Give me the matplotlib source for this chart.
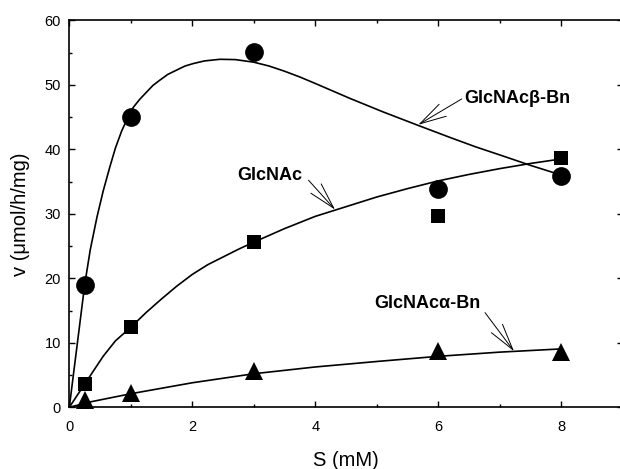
import matplotlib.pyplot as plt
from matplotlib.ticker import MultipleLocator

plt.rcParams['font.family'] = ['Liberation Sans', 'DejaVu Sans']

# measured points, S in mM, v in umol/h/mg
S = [0.25, 1, 3, 6, 8]
V_BETA = [19.0, 45.0, 55.1, 33.8, 35.8]     # GlcNAcb-Bn, circles
V_GLC = [3.6, 12.4, 25.7, 29.7, 38.6]       # GlcNAc, squares
V_ALPHA = [1.1, 2.2, 5.6, 8.7, 8.6]         # GlcNAca-Bn, triangles

# fitted curves
BETA_CURVE_X = [0, 0.1, 0.17, 0.25, 0.34, 0.45, 0.55, 0.66, 0.75, 0.85, 0.95, 1.04, 1.15, 1.26, 1.36, 1.47,
                1.6, 1.75, 1.88, 2.02, 2.2, 2.45, 2.7, 3.0, 3.25, 3.5, 3.75, 4.0, 4.56, 5.1, 5.7, 6.2, 6.6,
                7.1, 7.5, 8.0]
BETA_CURVE_Y = [0, 7.6, 12.9, 19.0, 24.4, 29.5, 33.5, 37.3, 40.2, 42.8, 44.9, 46.5, 47.8, 48.9, 49.9, 50.7,
                51.6, 52.3, 52.9, 53.3, 53.7, 53.95, 53.9, 53.5, 52.9, 52.1, 51.2, 50.2, 47.9, 45.8, 43.6, 41.8, 40.4,
                38.8, 37.5, 36.0]
GLC_CURVE_X = [0, 0.25, 0.55, 0.75, 1.0, 1.25, 1.5, 1.75, 2.0, 2.25, 2.5, 2.75, 3.0, 3.5, 4.0, 4.5, 5.0,
               5.5, 6.0, 6.5, 7.0, 7.5, 8.0]
GLC_CURVE_Y = [0, 3.6, 7.9, 10.3, 12.4, 14.7, 16.8, 18.8, 20.6, 22.1, 23.3, 24.5, 25.6, 27.7, 29.6, 31.1, 32.6,
               33.9, 35.1, 36.1, 37.0, 37.8, 38.5]
ALPHA_CURVE_X = [0, 0.36, 1.0, 2.0, 3.0, 4.0, 5.0, 6.0, 7.0, 8.0]
ALPHA_CURVE_Y = [0, 0.87, 2.1, 3.8, 5.2, 6.25, 7.1, 7.9, 8.55, 9.05]

LABELS = ['GlcNAc\u03b2-Bn', 'GlcNAc', 'GlcNAc\u03b1-Bn']

fig = plt.figure(figsize=(6.2, 4.69), dpi=100)
ax = fig.add_axes([0.1118, 0.1316, 0.8927, 0.8252])

ax.plot(BETA_CURVE_X, BETA_CURVE_Y, '-', color='k', linewidth=1.2)
ax.plot(GLC_CURVE_X, GLC_CURVE_Y, '-', color='k', linewidth=1.2)
ax.plot(ALPHA_CURVE_X, ALPHA_CURVE_Y, '-', color='k', linewidth=1.2)

ax.plot(S, V_BETA, 'o', color='k', markersize=13.5, markeredgewidth=0, clip_on=False, zorder=3)
ax.plot(S, V_GLC, 's', color='k', markersize=10, markeredgewidth=0, clip_on=False, zorder=3)
ax.plot(S, V_ALPHA, '^', color='k', markersize=13, markeredgewidth=0, clip_on=False, zorder=3)

# labels with open arrows pointing at the curves
arrow = dict(arrowstyle='->,head_length=1.9,head_width=0.5', color='k', lw=0.7, shrinkA=0, shrinkB=0)
ax.text(6.43, 47.8, LABELS[0], fontsize=13, fontweight='bold', ha='left', va='center')
ax.annotate('', xy=(5.675, 43.8), xytext=(6.38, 47.8), arrowprops=arrow)
ax.text(3.26, 36.0, LABELS[1], fontsize=13, fontweight='bold', ha='center', va='center')
ax.annotate('', xy=(4.32, 30.65), xytext=(3.89, 35.2), arrowprops=arrow)
ax.text(5.83, 16.1, LABELS[2], fontsize=13, fontweight='bold', ha='center', va='center')
ax.annotate('', xy=(7.23, 8.7), xytext=(6.76, 14.67), arrowprops=arrow)

ax.set_xlim(0, 9)
ax.set_ylim(0, 60)
ax.xaxis.set_major_locator(MultipleLocator(2))
ax.xaxis.set_minor_locator(MultipleLocator(1))
ax.yaxis.set_major_locator(MultipleLocator(10))
ax.yaxis.set_minor_locator(MultipleLocator(5))
ax.tick_params(which='both', direction='in', top=True, right=True, width=1.0, labelsize=10.5)
ax.tick_params(which='major', length=4.3)
ax.tick_params(which='minor', length=2.2)
ax.tick_params(axis='x', pad=9)
ax.tick_params(axis='y', pad=6)
for sp in ax.spines.values():
    sp.set_linewidth(1.2)

ax.set_xlabel('S (mM)', fontsize=14.5)
ax.set_ylabel('v (\u03bcmol/h/mg)', fontsize=14.5)
ax.xaxis.set_label_coords(0.5, -0.113)
ax.yaxis.set_label_coords(-0.071, 0.5)

fig.savefig('out.png', dpi=100)
